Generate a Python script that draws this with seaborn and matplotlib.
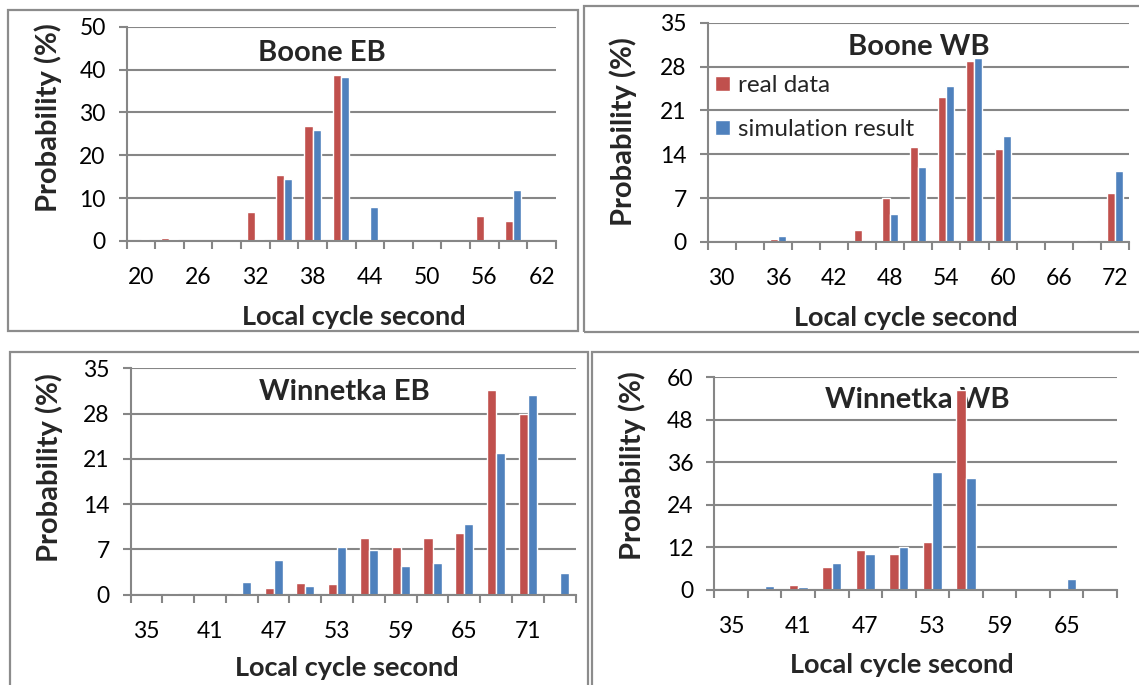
import numpy as np
import pandas as pd
import seaborn as sns
import matplotlib.pyplot as plt
from matplotlib.patches import Rectangle, Patch

RED = '#C0504D'
BLUE = '#4F81BD'
GRID = '#868686'

# Boone EB
boone_eb_sec = [20, 23, 26, 29, 32, 35, 38, 41, 44, 47, 50, 53, 56, 59, 62]
boone_eb_real = [0, 0.6, 0, 0.3, 6.8, 15.4, 26.9, 38.8, 0.3, 0, 0, 0, 5.8, 4.7, 0]
boone_eb_sim = [0.4, 0.4, 0, 0, 0.4, 14.4, 25.9, 38.3, 7.9, 0, 0, 0, 0, 11.9, 0]

# Boone WB
boone_wb_sec = [30, 33, 36, 39, 42, 45, 48, 51, 54, 57, 60, 63, 66, 69, 72]
boone_wb_real = [0, 0, 0.55, 0, 0, 1.85, 7.0, 15.2, 23.2, 28.9, 14.9, 0, 0, 0.3, 7.9]
boone_wb_sim = [0, 0, 0.95, 0, 0, 0, 4.45, 11.95, 24.9, 29.4, 16.9, 0, 0, 0, 11.4]

# Winnetka EB
winnetka_eb_sec = [35, 38, 41, 44, 47, 50, 53, 56, 59, 62, 65, 68, 71, 74]
winnetka_eb_real = [0, 0.2, 0, 0.2, 1.05, 1.8, 1.6, 8.8, 7.4, 8.8, 9.6, 31.6, 28.0, 0.2]
winnetka_eb_sim = [0, 0, 0, 1.9, 5.35, 1.4, 7.35, 6.9, 4.4, 4.9, 10.9, 21.9, 30.9, 3.35]

# Winnetka WB
winnetka_wb_sec = [35, 38, 41, 44, 47, 50, 53, 56, 59, 62, 65, 68]
winnetka_wb_real = [0, 0, 1.3, 6.3, 11.3, 10.2, 13.4, 56.4, 0, 0, 0, 0]
winnetka_wb_sim = [0, 0.95, 0.9, 7.4, 10.0, 12.0, 33.3, 31.4, 0.3, 0.3, 2.9, 0]

sns.set_theme(style='white')
plt.rcParams['font.family'] = ['Lato', 'DejaVu Sans']

W, H = 1139, 685
fig = plt.figure(figsize=(W / 100, H / 100), dpi=100)


def px(x0, y0, x1, y1):
    # pixel box -> figure rect
    return [x0 / W, 1 - y1 / H, (x1 - x0) / W, (y1 - y0) / H]


def draw_panel(rect, secs, real, sim, ymax, ystep, title, title_xy,
               ylab_xy, xlab_xy):
    ax = fig.add_axes(rect)
    df = pd.DataFrame({
        'sec': [str(s) for s in secs] * 2,
        'prob': real + sim,
        'series': ['real data'] * len(secs) + ['simulation result'] * len(secs),
    })
    sns.barplot(data=df, x='sec', y='prob', hue='series',
                order=[str(s) for s in secs],
                palette=[RED, BLUE], width=0.57, saturation=1,
                legend=False, ax=ax, zorder=2)
    n = len(secs)
    ax.set_xlim(-0.5, n - 0.5)
    ax.set_ylim(0, ymax)
    ax.set_xticks(np.arange(n + 1) - 0.5)
    ax.set_xticklabels([''] * (n + 1))
    ax.set_xticks(np.arange(n), minor=True)
    ax.set_xticklabels([str(s) if i % 2 == 0 else '' for i, s in enumerate(secs)],
                       minor=True)
    ax.set_yticks(np.arange(0, ymax + 1, ystep))
    ax.tick_params(axis='x', which='major', length=6, width=1.5, color=GRID,
                   direction='out', bottom=True)
    ax.tick_params(axis='x', which='minor', length=0, pad=19, labelsize=16.5,
                   labelcolor='black')
    ax.tick_params(axis='y', length=6, width=1.5, color=GRID, direction='out',
                   left=True, pad=9, labelsize=16.5, labelcolor='black')
    ax.yaxis.grid(True, color=GRID, linewidth=1.5)
    ax.set_axisbelow(True)
    for s in ['top', 'right']:
        ax.spines[s].set_visible(False)
    for s in ['left', 'bottom']:
        ax.spines[s].set_color(GRID)
        ax.spines[s].set_linewidth(1.5)
    ax.set_xlabel('')
    ax.set_ylabel('')
    ax.text(title_xy[0] / W, 1 - title_xy[1] / H, title, transform=fig.transFigure,
            ha='center', va='center', fontsize=21, fontweight='bold', zorder=1)
    fig.text(ylab_xy[0] / W, 1 - ylab_xy[1] / H, 'Probability (%)', rotation=90,
             ha='center', va='center', fontsize=21, fontweight='bold')
    fig.text(xlab_xy[0] / W, 1 - xlab_xy[1] / H, 'Local cycle second',
             ha='center', va='center', fontsize=19.5, fontweight='bold')
    return ax


# panel frames
for x0, y0, x1, y1 in [(7.5, 10, 578, 331), (584, 6, 1145, 332),
                       (9.5, 352, 588, 695), (592, 352, 1145, 695)]:
    fig.patches.append(Rectangle((x0 / W, 1 - y1 / H), (x1 - x0) / W, (y1 - y0) / H,
                                 transform=fig.transFigure, fill=False,
                                 edgecolor='#8c8c8c', linewidth=1.6))

draw_panel(px(126.5, 26.7, 556, 241), boone_eb_sec, boone_eb_real, boone_eb_sim,
           50, 10, 'Boone EB', (322, 53), (48, 118), (354, 317))
ax2 = draw_panel(px(707.6, 22.7, 1129, 242), boone_wb_sec, boone_wb_real, boone_wb_sim,
                 35, 7, 'Boone WB', (918.7, 46.7), (622.8, 131.5), (905.6, 318))
draw_panel(px(130.5, 368.3, 575.6, 594.7), winnetka_eb_sec, winnetka_eb_real,
           winnetka_eb_sim, 35, 7, 'Winnetka EB', (344, 391.7), (49, 467.5), (347, 668))
draw_panel(px(714.3, 377, 1117, 589.7), winnetka_wb_sec, winnetka_wb_real,
           winnetka_wb_sim, 60, 12, 'Winnetka WB', (917, 400), (632, 465.5), (901.5, 665))

handles = [Patch(facecolor=RED), Patch(facecolor=BLUE)]
ax2.legend(handles, ['real data', 'simulation result'], loc='upper left',
           bbox_to_anchor=(715 / W, 1 - 75 / H), bbox_transform=fig.transFigure,
           frameon=False, fontsize=17.5, handlelength=0.6, handleheight=0.6,
           handletextpad=0.35, labelspacing=0.95, borderpad=0, borderaxespad=0)

fig.savefig('out.png', dpi=100)
